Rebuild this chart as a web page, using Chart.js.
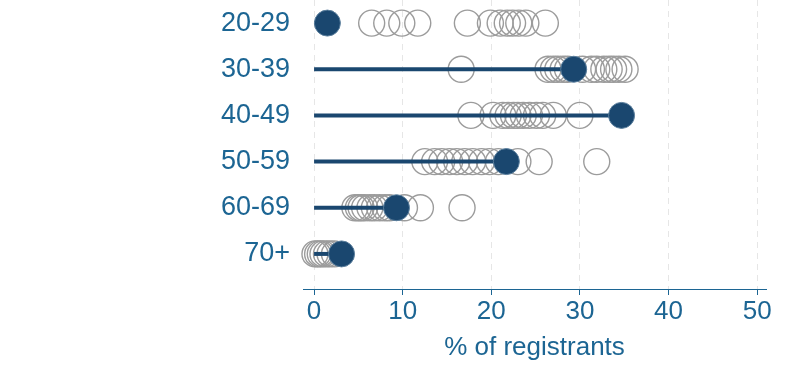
<!DOCTYPE html>
<html>
<head>
<meta charset="utf-8">
<script src="https://cdn.jsdelivr.net/npm/chart.js@4/dist/chart.umd.min.js"></script>
<style>
html,body{margin:0;padding:0;background:#fff;}
#wrap{width:800px;height:378px;}
</style>
</head>
<body>
<div id="wrap"><canvas id="c" width="800" height="378"></canvas></div>
<script>
const categories = ['20-29', '30-39', '40-49', '50-59', '60-69', '70+'];
const highlighted = [1.5, 29.3, 34.7, 21.7, 9.3, 3.1];
const others2029 = [6.5, 8.2, 9.9, 11.7, 17.3, 19.9, 21.0, 21.8, 22.4, 23.1, 23.9, 26.1];
const others3039 = [16.6, 26.4, 27.0, 27.5, 28.1, 28.6, 30.3, 31.3, 31.9, 32.7, 33.3, 33.8, 34.4, 35.1];
const others4049 = [17.7, 20.2, 21.3, 21.9, 22.5, 23.0, 23.6, 24.3, 25.1, 25.8, 27.0, 30.0];
const others5059 = [12.5, 13.6, 14.4, 15.3, 16.1, 17.0, 17.9, 18.9, 19.8, 20.8, 23.0, 25.4, 31.9];
const others6069 = [4.6, 5.0, 5.3, 5.7, 6.3, 6.8, 7.4, 8.0, 8.5, 10.2, 12.0, 16.7];
const others70 = [0.1, 0.4, 0.7, 1.0, 1.4, 1.8, 2.3];
const xTicks = [0, 10, 20, 30, 40, 50];
const xTitle = '% of registrants';

const othersByRow = [others2029, others3039, others4049, others5059, others6069, others70];

const NAVY = '#1a476f';
const TEXT = '#1c6593';
const FONT = "'Liberation Sans', Arial, sans-serif";

const hollowData = [];
othersByRow.forEach((arr, i) => arr.forEach(v => hollowData.push({x: v, y: i})));

const datasets = [];
datasets.push({
  type: 'scatter',
  data: hollowData,
  pointRadius: 13,
  pointBackgroundColor: 'rgba(0,0,0,0)',
  pointBorderColor: '#9c9c9c',
  pointBorderWidth: 1.4,
  order: 3,
  clip: false
});
highlighted.forEach((v, i) => {
  datasets.push({
    type: 'line',
    data: [{x: 0, y: i}, {x: v, y: i}],
    borderColor: NAVY,
    borderWidth: 4,
    pointRadius: 0,
    fill: false,
    order: 2,
    clip: false
  });
});
datasets.push({
  type: 'scatter',
  data: highlighted.map((v, i) => ({x: v, y: i})),
  pointRadius: 13,
  pointBackgroundColor: NAVY,
  pointBorderColor: '#5a7e9c',
  pointBorderWidth: 1,
  order: 1,
  clip: false
});

new Chart(document.getElementById('c'), {
  type: 'scatter',
  data: {datasets},
  options: {
    responsive: false,
    animation: false,
    devicePixelRatio: 1,
    layout: {autoPadding: false, padding: {left: 0, right: 34, top: 0, bottom: 0}},
    plugins: {legend: {display: false}, tooltip: {enabled: false}},
    scales: {
      x: {
        type: 'linear',
        min: -1.25,
        max: 51,
        afterBuildTicks: s => { s.ticks = xTicks.map(v => ({value: v})); },
        afterFit: s => { s.height = 89; s.paddingLeft = 0; s.paddingRight = 0; },
        ticks: {
          color: TEXT,
          font: {family: FONT, size: 26},
          padding: 1,
          maxRotation: 0
        },
        grid: {
          color: '#e6e6e6',
          lineWidth: 1,
          tickColor: TEXT,
          tickLength: 6,
          tickBorderDash: []
        },
        border: {display: true, color: TEXT, width: 1, dash: [6, 5]},
        title: {
          display: true,
          text: xTitle,
          color: TEXT,
          font: {family: FONT, size: 26},
          padding: {top: 4, bottom: 15}
        }
      },
      y: {
        type: 'linear',
        reverse: true,
        min: -0.5,
        max: 5.76,
        afterBuildTicks: s => { s.ticks = categories.map((c, i) => ({value: i})); },
        afterFit: s => { s.width = 303; s.paddingTop = 0; s.paddingBottom = 0; },
        ticks: {
          color: TEXT,
          font: {family: FONT, size: 27},
          padding: 13,
          callback: v => categories[v]
        },
        grid: {display: false, drawTicks: false},
        border: {display: false}
      }
    }
  }
});
</script>
</body>
</html>
